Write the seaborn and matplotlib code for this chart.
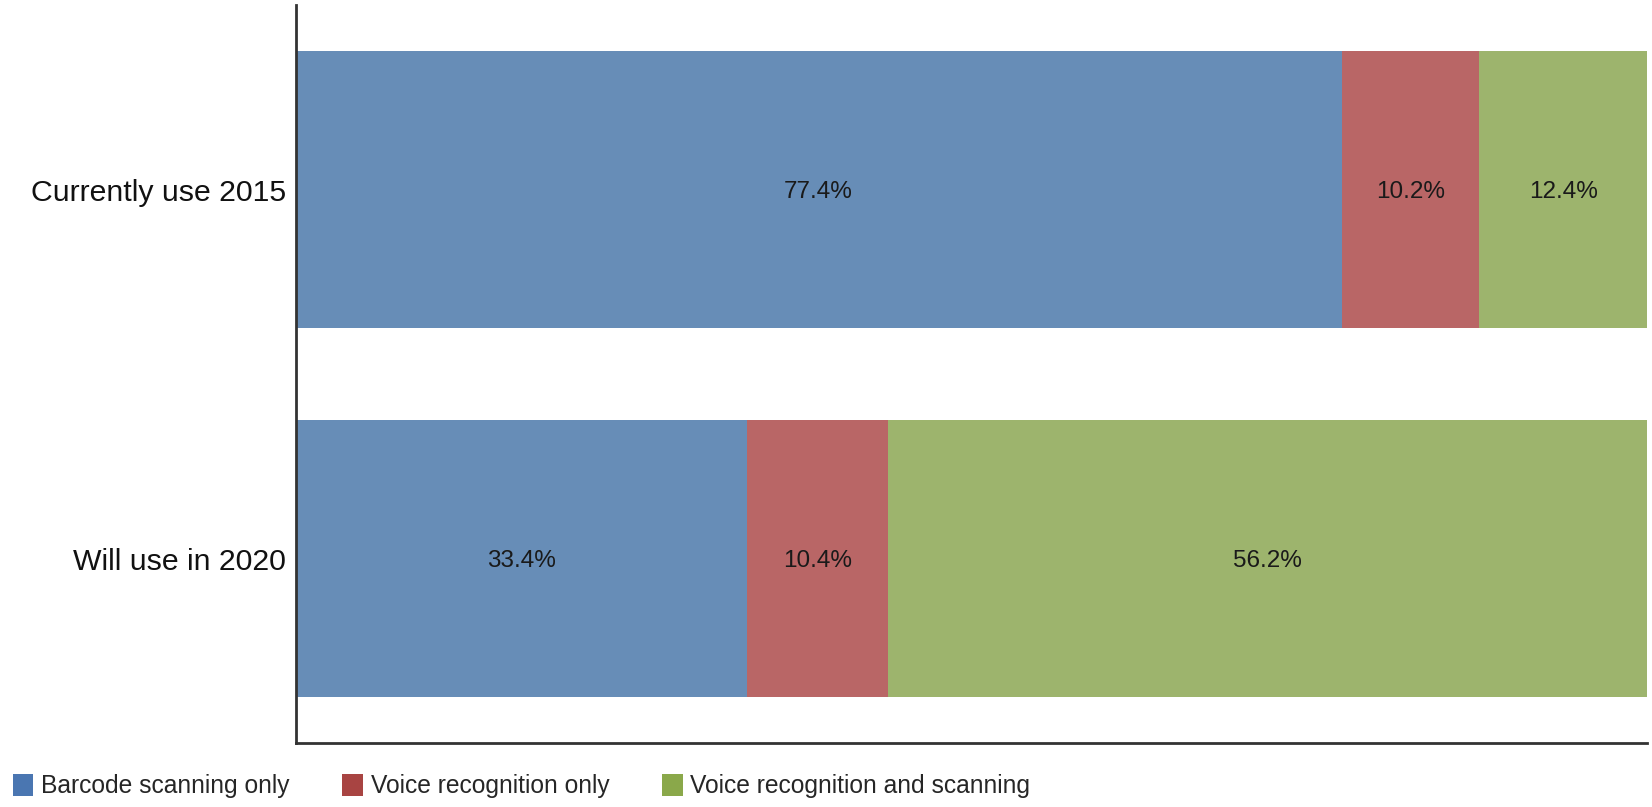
import matplotlib
matplotlib.use("Agg")
import matplotlib.pyplot as plt
from matplotlib.patches import Patch
import seaborn as sns
import pandas as pd
import numpy as np

# ── Data ──────────────────────────────────────────────────────────────────────
groups = ["Currently use 2015", "Will use in 2020"]
series = ["Barcode scanning only", "Voice recognition only", "Voice recognition and scanning"]
barcode = [77.4, 33.4]
voice_only = [10.2, 10.4]
voice_scan = [12.4, 56.2]

bar_colors = ["#678db7", "#b96666", "#9db46d"]
legend_colors = ["#4a76b1", "#a84442", "#8aa84a"]

sns.set_theme(style="white")
plt.rcParams["font.family"] = ["Liberation Sans", "DejaVu Sans"]

values = np.array([barcode, voice_only, voice_scan])
cum = values.cumsum(axis=0)

fig = plt.figure(figsize=(16.52, 8.07), dpi=100)
ax = fig.add_axes([0.179, 0.0793, 0.818, 0.9145])

# stacked bars: draw cumulative totals back to front
for k in range(len(series) - 1, -1, -1):
    df = pd.DataFrame({"group": groups, "value": cum[k]})
    sns.barplot(data=df, x="value", y="group", orient="h", color=bar_colors[k],
                width=0.75, saturation=1, ax=ax, linewidth=0)

# value labels centred in each segment
for k in range(len(series)):
    starts = cum[k] - values[k]
    for i in range(len(groups)):
        ax.text(starts[i] + values[k][i] / 2, i, f"{values[k][i]:.1f}%",
                ha="center", va="center_baseline", fontsize=17.5, color="#1a1a1a")

ax.set_xlim(0, 100)
ax.set_ylim(1.5, -0.5)
ax.set_xlabel("")
ax.set_ylabel("")
ax.set_xticks([])
ax.tick_params(axis="y", labelsize=21.8, length=0, pad=7, colors="#111111")
for side in ["top", "right"]:
    ax.spines[side].set_visible(False)
for side in ["left", "bottom"]:
    ax.spines[side].set_color("#333333")
    ax.spines[side].set_linewidth(2)

handles = [Patch(facecolor=c, edgecolor="none") for c in legend_colors]
fig.legend(handles, series, loc="center left", bbox_to_anchor=(0.0076, 0.026), ncol=3,
           frameon=False, fontsize=17.7, handlelength=0.85, handleheight=1.05,
           handletextpad=0.3, columnspacing=2.15, borderpad=0, borderaxespad=0)

fig.savefig("out.png", dpi=100)
